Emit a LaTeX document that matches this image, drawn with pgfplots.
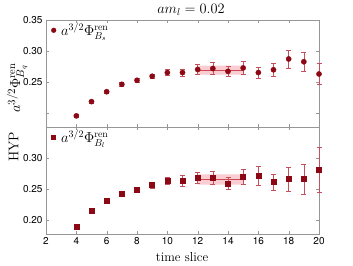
\documentclass[border=0pt]{standalone}
\usepackage{fontspec}
\usepackage{pgfplots}
\pgfplotsset{compat=1.18}
\newfontfamily\hel{TeX Gyre Heros}
\definecolor{mk}{RGB}{140,8,20}
\definecolor{eb}{RGB}{195,80,90}
\definecolor{band}{RGB}{250,205,210}
\definecolor{bandl}{RGB}{205,70,80}
\definecolor{frame}{RGB}{150,150,150}
\pgfplotstableread{
x y e
4 0.195 0.002
5 0.218 0.002
6 0.234 0.002
7 0.246 0.003
8 0.2525 0.003
9 0.259 0.004
10 0.265 0.005
11 0.265 0.006
12 0.270 0.0085
13 0.2715 0.0095
14 0.267 0.0077
15 0.2725 0.011
16 0.265 0.009
17 0.2695 0.011
18 0.287 0.0147
19 0.2825 0.016
20 0.2627 0.0166
}\topdata
\pgfplotstableread{
x y e
4 0.1896 0.002
5 0.2148 0.002
6 0.231 0.002
7 0.242 0.003
8 0.248 0.004
9 0.2563 0.005
10 0.263 0.006
11 0.263 0.0084
12 0.268 0.0095
13 0.268 0.010
14 0.259 0.009
15 0.270 0.012
16 0.271 0.015
17 0.261 0.013
18 0.2657 0.019
19 0.2657 0.024
20 0.2805 0.036
}\botdata
\pgfplotsset{
 panel/.style={scale only axis, width=273pt, height=107pt,
  xmin=2, xmax=20, ymin=0.177, ymax=0.35,
  xtick={2,4,...,20}, ytick={0.20,0.25,0.30,0.35},
  axis line style={frame}, tick style={frame},
  major tick length=3pt,
  tick label style={font=\hel\fontsize{10}{12}\selectfont},
  clip=false,
  legend style={draw=none, fill=none, at={(0,1)}, anchor=north west, font=\fontsize{14}{16}\selectfont, inner sep=1pt},
  legend cell align=left},
 ebars/.style={mk, only marks,
  error bars/.cd, y dir=both, y explicit,
  error bar style={eb, line width=0.6pt},
  error mark options={rotate=90, eb, mark size=2.5pt, line width=0.6pt},
  /pgfplots/.cd},
}
\begin{document}
\begin{tikzpicture}[x=1pt,y=1pt]
\path[use as bounding box] (-46,-31) rectangle (307,234);
\begin{axis}[panel, at={(0pt,107pt)}, anchor=south west,
  xticklabels={}, yticklabels={,0.25,0.30,0.35}]
\addlegendimage{legend image code/.code={\path[draw=none] (0pt,0pt) -- (12pt,0pt); \fill[mk, draw=none] (6.5pt,0pt) circle (2.6pt);}}
\addlegendentry{$a^{3/2}\Phi_{B_s}^{\mathrm{ren}}$}
\addplot[fill=band, draw=none, forget plot] coordinates {(12,0.2616) (15,0.2616) (15,0.2763) (12,0.2763) (12,0.2616)};
\addplot[bandl, line width=0.6pt, forget plot] coordinates {(12,0.269) (15,0.269)};
\addplot[ebars, mark=*, mark size=2.6pt, forget plot] table[x=x, y=y, y error=e] {\topdata};
\end{axis}
\begin{axis}[panel, at={(0pt,0pt)}, anchor=south west,
  xticklabels={2,4,6,8,10,12,14,16,18,20}, yticklabels={0.20,0.25,0.30,}]
\addlegendimage{legend image code/.code={\path[draw=none] (0pt,0pt) -- (12pt,0pt); \fill[mk, draw=none] (4pt,-2.5pt) rectangle (9pt,2.5pt);}}
\addlegendentry{$a^{3/2}\Phi_{B_l}^{\mathrm{ren}}$}
\addplot[fill=band, draw=none, forget plot] coordinates {(12,0.2568) (15,0.2568) (15,0.2735) (12,0.2735) (12,0.2568)};
\addplot[bandl, line width=0.6pt, forget plot] coordinates {(12,0.2655) (15,0.2655)};
\addplot[ebars, mark=square*, mark size=2.5pt, forget plot] table[x=x, y=y, y error=e] {\botdata};
\end{axis}
\node[font=\fontsize{14}{16}\selectfont] at (145,224) {$am_l = 0.02$};
\node[font=\fontsize{13}{15}\selectfont] at (136,-23) {time slice};
\node[rotate=90, font=\fontsize{15}{17}\selectfont, inner sep=0pt] at (-29,146) {$a^{3/2}\Phi_{B_q}^{\mathrm{ren}}$};
\node[rotate=90, font=\fontsize{14}{16}\selectfont, inner sep=0pt] at (-32.5,87) {HYP};
\end{tikzpicture}
\end{document}
